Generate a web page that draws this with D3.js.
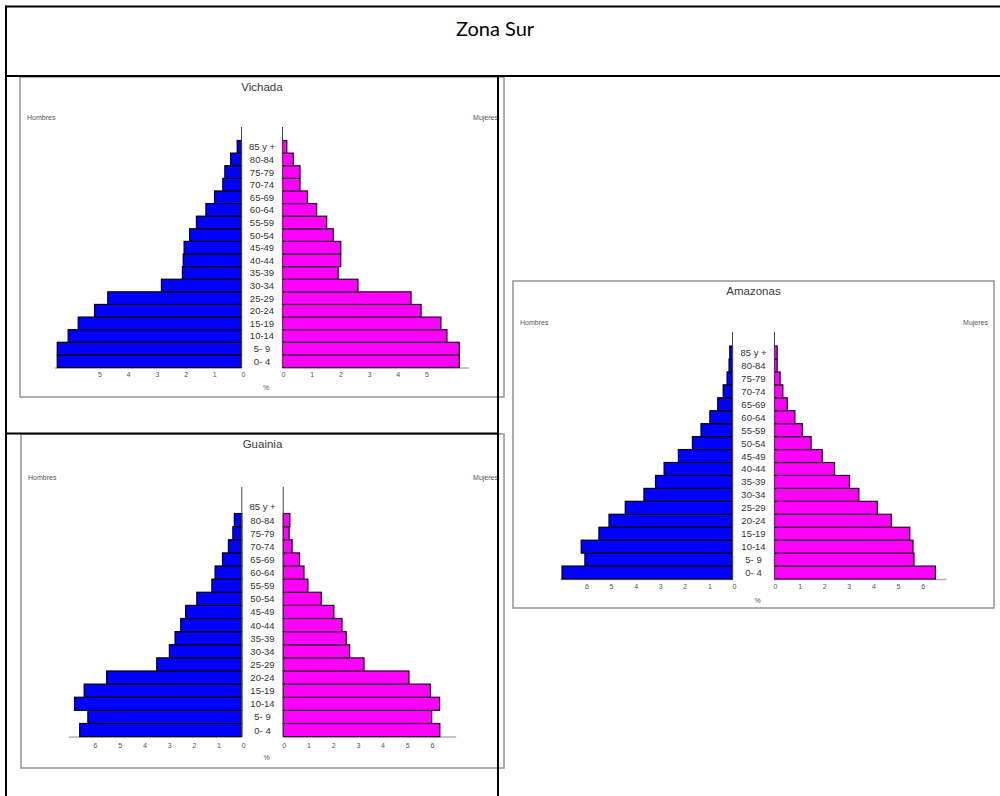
<!DOCTYPE html>
<html><head><meta charset="utf-8">
<script src="https://cdn.jsdelivr.net/npm/d3@7"></script>
<style>body{margin:0;background:#fff}svg{display:block}</style>
</head><body>
<svg id="c" width="1000" height="796"></svg>
<script>
// ---------- data ----------
const pageTitle = "Zona Sur";
const ageGroups = ["0- 4","5- 9","10-14","15-19","20-24","25-29","30-34","35-39","40-44","45-49","50-54","55-59","60-64","65-69","70-74","75-79","80-84","85 y +"];
const sideLabels = ["Hombres","Mujeres"];
const unitLabel = "%";

const vichadaMen   = [6.42,6.42,6.04,5.69,5.12,4.66,2.79,2.06,2.03,2.00,1.81,1.57,1.24,0.94,0.65,0.58,0.38,0.15];
const vichadaWomen = [6.16,6.16,5.73,5.52,4.83,4.48,2.63,1.94,2.03,2.03,1.77,1.54,1.19,0.87,0.61,0.61,0.38,0.15];
const vichadaTicks = [0,1,2,3,4,5];

const guainiaMen   = [6.56,6.23,6.77,6.38,5.47,3.44,2.93,2.70,2.47,2.27,1.82,1.21,1.08,0.78,0.54,0.36,0.30,0];
const guainiaWomen = [6.34,6.01,6.33,5.96,5.09,3.27,2.69,2.55,2.38,2.05,1.54,1.00,0.84,0.66,0.36,0.24,0.27,0];
const guainiaTicks = [0,1,2,3,4,5,6];

const amazonasMen   = [6.93,6.00,6.15,5.43,5.02,4.36,3.60,3.13,2.78,2.20,1.63,1.28,0.92,0.60,0.38,0.22,0.14,0.11];
const amazonasWomen = [6.54,5.67,5.63,5.50,4.75,4.18,3.43,3.05,2.44,1.94,1.49,1.13,0.83,0.52,0.34,0.23,0.11,0.11];
const amazonasTicks = [0,1,2,3,4,5,6];

// ---------- drawing ----------
const svg = d3.select("#c");
const FONT = "'Liberation Sans', Arial, sans-serif";

function pyramid(name, men, women, ticks, L) {
  const g = svg.append("g").attr("transform", `translate(${L.x},${L.y})`);
  g.append("rect").attr("x",0).attr("y",0).attr("width",L.w).attr("height",L.h)
    .attr("fill","#fff").attr("stroke","#9a9a9a").attr("stroke-width",1.6);

  const cx = L.w/2;
  const y = d3.scaleBand().domain(ageGroups.slice().reverse()).range([L.bandTop, L.bandBottom]).padding(0);
  const xm = d3.scaleLinear().domain([0, L.max]).range([cx - L.gap/2, cx - L.gap/2 - L.max*L.unit]);
  const xw = d3.scaleLinear().domain([0, L.max]).range([cx + L.gap/2, cx + L.gap/2 + L.max*L.unit]);

  g.append("text").attr("x",cx).attr("y",L.titleY).attr("text-anchor","middle")
    .attr("dominant-baseline","middle").attr("font-family",FONT).attr("font-size",11.5)
    .attr("fill","#3a3a3a").text(name);
  g.append("text").attr("x",7).attr("y",L.sideY).attr("dominant-baseline","middle")
    .attr("font-family",FONT).attr("font-size",7).attr("fill","#555").text(sideLabels[0]);
  g.append("text").attr("x",L.w-6).attr("y",L.sideY).attr("text-anchor","end").attr("dominant-baseline","middle")
    .attr("font-family",FONT).attr("font-size",7).attr("fill","#555").text(sideLabels[1]);

  // baseline
  g.append("line").attr("x1",xm(0)).attr("x2",xm(L.max)).attr("y1",L.bandBottom+0.5).attr("y2",L.bandBottom+0.5)
    .attr("stroke","#b0b0b0").attr("stroke-width",1.5);
  g.append("line").attr("x1",xw(0)).attr("x2",xw(L.max)).attr("y1",L.bandBottom+0.5).attr("y2",L.bandBottom+0.5)
    .attr("stroke","#b0b0b0").attr("stroke-width",1.5);

  // bars
  g.append("g").selectAll("rect").data(men).join("rect")
    .attr("x",(d)=>xm(d)).attr("y",(d,i)=>y(ageGroups[i]))
    .attr("width",(d)=>xm(0)-xm(d)).attr("height",y.bandwidth())
    .attr("fill","#0000ff").attr("stroke","#000").attr("stroke-width",(d)=>d>0?1.2:0);
  g.append("g").selectAll("rect").data(women).join("rect")
    .attr("x",xw(0)).attr("y",(d,i)=>y(ageGroups[i]))
    .attr("width",(d)=>xw(d)-xw(0)).attr("height",y.bandwidth())
    .attr("fill","#ff00ff").attr("stroke","#300030").attr("stroke-width",(d)=>d>0?1.2:0);

  // central axis lines
  g.append("line").attr("x1",xm(0)).attr("x2",xm(0)).attr("y1",L.axisTop).attr("y2",L.bandBottom)
    .attr("stroke","#444").attr("stroke-width",1);
  g.append("line").attr("x1",xw(0)).attr("x2",xw(0)).attr("y1",L.axisTop).attr("y2",L.bandBottom)
    .attr("stroke","#444").attr("stroke-width",1);

  // age labels
  g.append("g").selectAll("text").data(ageGroups).join("text")
    .attr("x",cx).attr("y",(d)=>y(d)+y.bandwidth()/2).attr("text-anchor","middle")
    .attr("dominant-baseline","central").attr("font-family",FONT).attr("font-size",9.5)
    .attr("fill","#333").text((d)=>d);

  // tick labels
  g.append("g").selectAll("text").data(ticks).join("text")
    .attr("x",(d)=>xm(d)+2).attr("y",L.tickY).attr("text-anchor","middle").attr("dominant-baseline","middle")
    .attr("font-family",FONT).attr("font-size",7).attr("fill","#555").text((d)=>d);
  g.append("g").selectAll("text").data(ticks).join("text")
    .attr("x",(d)=>xw(d)+1).attr("y",L.tickY).attr("text-anchor","middle").attr("dominant-baseline","middle")
    .attr("font-family",FONT).attr("font-size",7).attr("fill","#555").text((d)=>d);
  g.append("text").attr("x",cx+4).attr("y",L.pctY).attr("text-anchor","middle").attr("dominant-baseline","middle")
    .attr("font-family",FONT).attr("font-size",7).attr("fill","#555").text(unitLabel);
}

pyramid("Vichada", vichadaMen, vichadaWomen, vichadaTicks,
  {x:20, y:77, w:484, h:320, titleY:11, sideY:41, axisTop:50, bandTop:63.5, bandBottom:290.5,
   gap:41, unit:28.7, max:6.5, tickY:298, pctY:311});
pyramid("Guainia", guainiaMen, guainiaWomen, guainiaTicks,
  {x:21, y:434, w:483, h:334, titleY:11, sideY:44, axisTop:53, bandTop:66.4, bandBottom:302.6,
   gap:41.5, unit:24.7, max:7, tickY:312, pctY:324});
pyramid("Amazonas", amazonasMen, amazonasWomen, amazonasTicks,
  {x:513, y:281, w:481, h:327, titleY:11, sideY:42, axisTop:51, bandTop:65, bandBottom:298,
   gap:42, unit:24.6, max:7, tickY:306, pctY:320});

// ---------- table lines ----------
const lines = svg.append("g").attr("fill","#000");
lines.append("rect").attr("x",5).attr("y",5.5).attr("width",995).attr("height",2);
lines.append("rect").attr("x",5).attr("y",5.5).attr("width",2).attr("height",791);
lines.append("rect").attr("x",5).attr("y",75).attr("width",995).attr("height",2);
lines.append("rect").attr("x",497).attr("y",75).attr("width",2).attr("height",721);
lines.append("rect").attr("x",5).attr("y",432.5).attr("width",494).attr("height",2);

svg.append("text").attr("x",495).attr("y",31).attr("text-anchor","middle").attr("dominant-baseline","middle")
  .attr("font-family","Lato, 'Open Sans', sans-serif").attr("font-size",20).attr("fill","#000").text(pageTitle);
</script>
</body></html>
